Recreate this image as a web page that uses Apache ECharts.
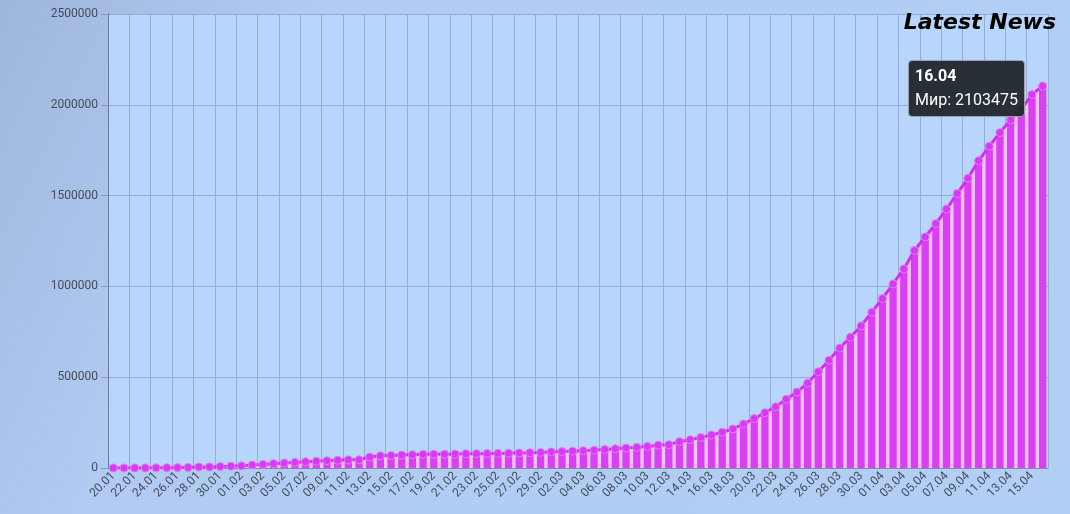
<!DOCTYPE html>
<html>
<head>
<meta charset="utf-8">
<script src="https://cdn.jsdelivr.net/npm/echarts@6/dist/echarts.min.js"></script>
<style>
html,body{margin:0;padding:0;}
#chart{width:1070px;height:514px;}
</style>
</head>
<body>
<div id="chart"></div>
<script>
var categories = [
 '20.01','21.01','22.01','23.01','24.01','25.01','26.01','27.01','28.01','29.01','30.01','31.01',
 '01.02','02.02','03.02','04.02','05.02','06.02','07.02','08.02','09.02','10.02','11.02','12.02','13.02','14.02','15.02','16.02','17.02','18.02','19.02','20.02','21.02','22.02','23.02','24.02','25.02','26.02','27.02','28.02','29.02',
 '01.03','02.03','03.03','04.03','05.03','06.03','07.03','08.03','09.03','10.03','11.03','12.03','13.03','14.03','15.03','16.03','17.03','18.03','19.03','20.03','21.03','22.03','23.03','24.03','25.03','26.03','27.03','28.03','29.03','30.03','31.03',
 '01.04','02.04','03.04','04.04','05.04','06.04','07.04','08.04','09.04','10.04','11.04','12.04','13.04','14.04','15.04','16.04'
];
var worldCases = [
 282,314,555,654,941,1434,2118,2927,5578,6166,8234,9927,
 12038,16787,19881,23892,27635,30817,34391,37120,40150,42762,44802,45221,60368,66885,69030,71224,73258,75136,75639,76197,76819,78572,78958,79561,80406,81388,82746,84112,86011,
 88369,90306,92840,95120,97886,101801,105847,109821,113590,118620,125875,128352,145205,156101,167454,181574,197102,214821,242570,272208,304507,336953,378235,418045,467653,529591,593291,660706,720117,782365,857487,
 932605,1013466,1095917,1197405,1272115,1345101,1426096,1511104,1595350,1691719,1771514,1846680,1917320,1976191,2056055,2103475
];
var seriesName = 'Мир';
var yTicks = {min:0, max:2500000, interval:500000};

var chart = echarts.init(document.getElementById('chart'));
chart.setOption({
  animation:false,
  backgroundColor:{type:'linear',x:0,y:0,x2:1,y2:1,colorStops:[
    {offset:0,color:'#9fb6dc'},{offset:0.25,color:'#b1cbf2'},{offset:1,color:'#b3cff6'}]},
  title:{text:'Latest News',right:9,top:7,
    textStyle:{fontFamily:'DejaVu Sans',fontStyle:'italic',fontWeight:'bold',fontSize:22,color:'#000'}},
  grid:{left:108,right:22,top:14,bottom:46,show:true,backgroundColor:'#b8d5fb',borderWidth:0},
  tooltip:{trigger:'item',triggerOn:'none',alwaysShowContent:true,
    backgroundColor:'rgba(30,34,40,0.93)',borderColor:'#9aa3ad',borderWidth:1,borderRadius:4,
    padding:[3,6,4,6],
    textStyle:{color:'#fff',fontSize:16,fontFamily:'Roboto'},
    position:function(){return [908,60];},
    formatter:function(p){return '<b>'+p.name+'</b><br/>'+seriesName+': '+p.value;},
    extraCssText:'box-shadow:none;line-height:24px;'},
  xAxis:{type:'category',data:categories,boundaryGap:true,
    axisLine:{show:true,lineStyle:{color:'#7d8fb0'}},
    axisTick:{show:false},
    axisLabel:{interval:1,rotate:45,color:'#454c58',fontSize:12,fontFamily:'Roboto',margin:6},
    splitLine:{show:true,interval:1,lineStyle:{color:'#93acd6',width:1}}},
  yAxis:{type:'value',min:yTicks.min,max:yTicks.max,interval:yTicks.interval,
    axisLine:{show:true,lineStyle:{color:'#6a7a98'}},
    axisTick:{show:true,length:7,lineStyle:{color:'#8a9ab8'}},
    axisLabel:{color:'#454c58',fontSize:12,fontFamily:'Roboto',margin:10,
      formatter:function(v){return String(v);}},
    splitLine:{show:true,lineStyle:{color:'#93acd6',width:1}}},
  series:[
    {type:'line',name:seriesName,data:worldCases,z:1,symbol:'none',silent:true,
      lineStyle:{width:0},tooltip:{show:false},
      areaStyle:{color:'#edc3fa',opacity:1,origin:'start'}},
    {type:'bar',name:seriesName,data:worldCases,barWidth:'68%',z:2,
      itemStyle:{color:'#db3ff2'},tooltip:{show:false}},
    {type:'line',name:seriesName,data:worldCases,z:3,
      symbol:'circle',symbolSize:8,showAllSymbol:true,
      lineStyle:{color:'#d62cf0',width:3},
      itemStyle:{color:'#d63af2',borderColor:'#e77af8',borderWidth:1}}
  ]
});
chart.dispatchAction({type:'showTip',seriesIndex:2,dataIndex:87});
</script>
</body>
</html>
